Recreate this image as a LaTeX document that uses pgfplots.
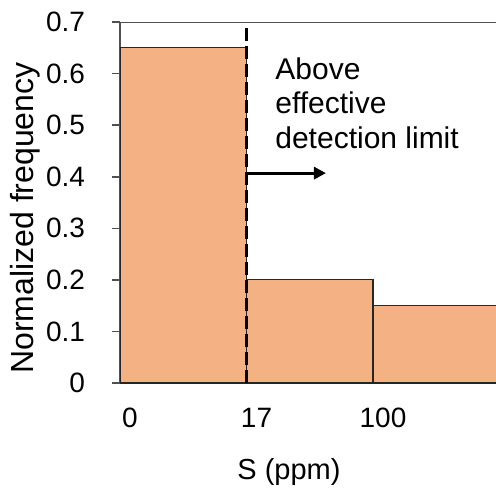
\documentclass[border=0pt]{standalone}
\usepackage{pgfplots}
\pgfplotsset{compat=1.18}
\usepackage{fontspec}
\setmainfont{Liberation Sans}
\usetikzlibrary{arrows.meta}
\definecolor{barfill}{RGB}{244,177,131}
\definecolor{axgray}{RGB}{80,80,80}
\begin{document}
\begin{tikzpicture}
\begin{axis}[
  at={(0,0)}, anchor=south west,
  scale only axis,
  width=188pt, height=180.5pt,
  xmin=0, xmax=2.972, ymin=0, ymax=0.7,
  axis x line*=bottom, axis y line*=left,
  axis line style={axgray, line width=0.8pt, -},
  xtick={0,1,2}, xticklabels={0,17,100},
  xtick style={draw=none},
  xticklabel style={font=\fontsize{14}{16}\selectfont, xshift=5pt, yshift=-5pt},
  ytick={0,0.1,0.2,0.3,0.4,0.5,0.6,0.7},
  yticklabels={0,0.1,0.2,0.3,0.4,0.5,0.6,0.7},
  yticklabel style={font=\fontsize{14}{16}\selectfont, xshift=-10pt},
  ytick style={axgray, line width=0.8pt},
  tick align=outside, major tick length=4pt,
  xlabel={S (ppm)},
  xlabel style={at={(axis description cs:0,0)}, anchor=center, xshift=84.5pt, yshift=-44.5pt, font=\fontsize{14.5}{16}\selectfont},
  ylabel={Normalized frequency},
  ylabel style={at={(axis description cs:0,0.5)}, anchor=center, yshift=47.5pt, xshift=-7.75pt, font=\fontsize{16}{18}\selectfont},
  clip=true,
]
\addplot[ybar interval, fill=barfill, draw=black!85, line width=0.6pt]
  coordinates {(0,0.65) (1,0.2) (2,0.15) (3,0.15)};
\addplot[black, line width=1.5pt, dash pattern=on 6.5pt off 2.5pt]
  coordinates {(1,0) (1,0.69)};
\addplot[black, line width=1.5pt, -{Triangle[length=6pt,width=6pt]}]
  coordinates {(1,0.407) (1.628,0.407)};
\draw[axgray, line width=0.8pt] (axis cs:0,0.7) -- (axis cs:2.972,0.7);
\node[anchor=north west, inner sep=0pt, align=left, font=\fontsize{15}{17.3}\selectfont]
  at (axis cs:1.225,0.632) {Above\\effective\\detection limit};
\end{axis}
\pgfresetboundingbox
\path (-60pt,-55pt) rectangle (188pt,191.5pt);
\end{tikzpicture}
\end{document}
